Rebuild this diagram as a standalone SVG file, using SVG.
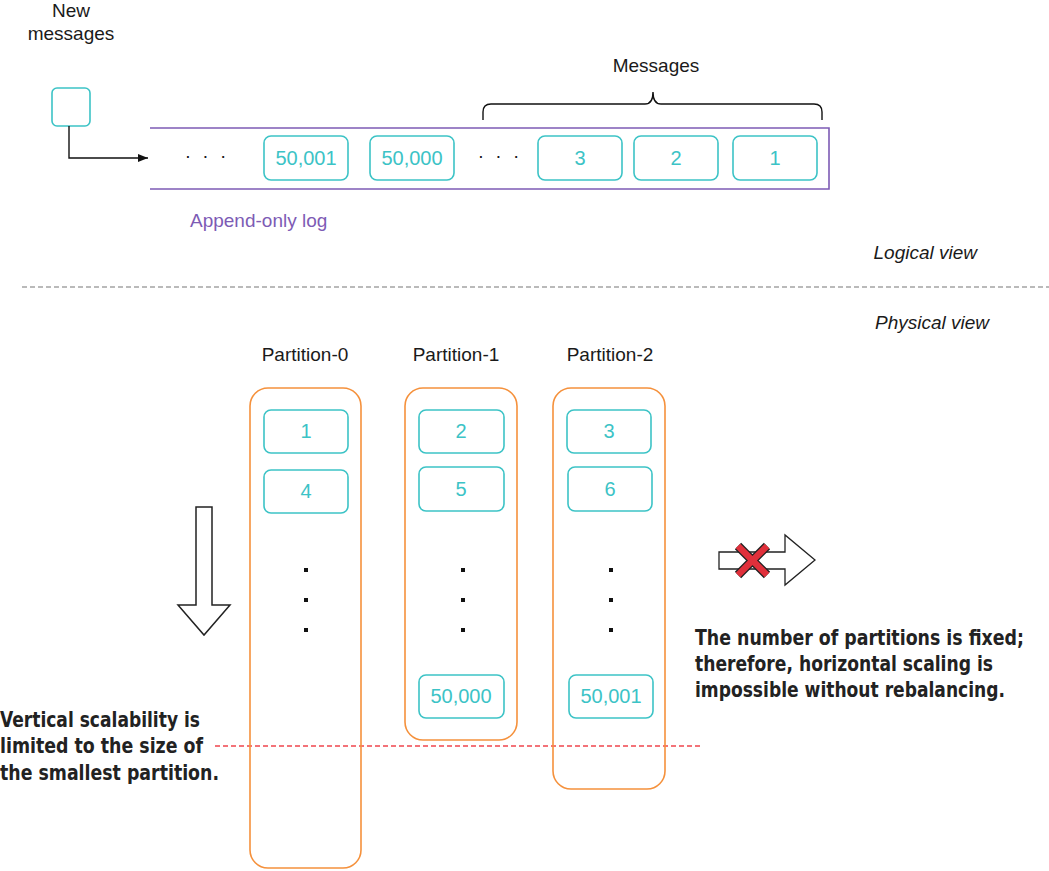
<svg xmlns="http://www.w3.org/2000/svg" width="1049" height="871" viewBox="0 0 1049 871">
<style>
.t{font-family:"Liberation Sans",Arial,sans-serif;font-size:19px;fill:#1a1a1a}
.c{font-family:"Liberation Sans",Arial,sans-serif;font-size:20px;fill:#3cc3c6;text-anchor:middle}
.m{fill:#fff;stroke:#3cc3c6;stroke-width:1.6}
.p{fill:none;stroke:#f5913c;stroke-width:1.6}
.i{font-family:"Liberation Sans",Arial,sans-serif;font-size:19px;font-style:italic;fill:#1a1a1a;text-anchor:end}
.b{font-family:"DejaVu Sans Condensed","Liberation Sans Narrow","Liberation Sans",sans-serif;font-size:22px;font-weight:bold;fill:#222}
.dot{fill:#111}
</style>
<defs>
<marker id="ah" markerWidth="10" markerHeight="8" refX="10" refY="4" orient="auto" markerUnits="userSpaceOnUse" viewBox="0 0 10 8"><path d="M0,0 L10,4 L0,8 Z" fill="#111"/></marker>
</defs>
<rect width="1049" height="871" fill="#fff"/>

<g id="new-messages">
<text class="t" x="71" y="17" text-anchor="middle">New</text>
<text class="t" x="71" y="40" text-anchor="middle">messages</text>
<rect class="m" x="52" y="88" width="38" height="38" rx="5"/>
</g>

<g id="log">
<path d="M150,128 H829 V189 H150" fill="none" stroke="#7d5bb5" stroke-width="1.6"/>
<text class="t" x="207" y="162" text-anchor="middle" letter-spacing="3">· · ·</text>
<text class="t" x="500" y="162" text-anchor="middle" letter-spacing="3">· · ·</text>
<text x="190" y="227" font-family="Liberation Sans,Arial,sans-serif" font-size="19" fill="#7d5bb5">Append-only log</text>
</g>
<g id="m50001"><rect class="m" x="264" y="136" width="84" height="44" rx="7"/><text class="c" x="306" y="165">50,001</text></g>
<g id="m50000"><rect class="m" x="370" y="136" width="84" height="44" rx="7"/><text class="c" x="412" y="165">50,000</text></g>
<g id="m3"><rect class="m" x="538" y="136" width="84" height="44" rx="7"/><text class="c" x="580" y="165">3</text></g>
<g id="m2"><rect class="m" x="634" y="136" width="84" height="44" rx="7"/><text class="c" x="676" y="165">2</text></g>
<g id="m1"><rect class="m" x="733" y="136" width="84" height="44" rx="7"/><text class="c" x="775" y="165">1</text></g>

<g id="messages-brace">
<path d="M483,120 V112 Q483,104 491,104 H645 Q653,104 653,92 Q653,104 661,104 H814 Q822,104 822,112 V120" fill="none" stroke="#111" stroke-width="1.4"/>
<text class="t" x="656" y="72" text-anchor="middle">Messages</text>
</g>

<g id="connectors">
<path d="M69,126 V158 H148" fill="none" stroke="#111" stroke-width="1.4" marker-end="url(#ah)"/>
<line x1="22" y1="287" x2="1049" y2="287" stroke="#777" stroke-width="1.2" stroke-dasharray="5,3"/>
<line x1="215" y1="746" x2="700" y2="746" stroke="#f0464e" stroke-width="1.3" stroke-dasharray="5,3"/>
</g>

<text class="i" x="977" y="259">Logical view</text>
<text class="i" x="989" y="329">Physical view</text>

<g id="partition-0">
<text class="t" x="305" y="361" text-anchor="middle">Partition-0</text>
<rect class="p" x="250" y="388" width="111" height="480" rx="18"/>
<rect class="m" x="264" y="410" width="84" height="43" rx="7"/><text class="c" x="306" y="438">1</text>
<rect class="m" x="264" y="470" width="84" height="43" rx="7"/><text class="c" x="306" y="498">4</text>
<rect class="dot" x="304" y="568" width="4" height="4"/><rect class="dot" x="304" y="598" width="4" height="4"/><rect class="dot" x="304" y="628" width="4" height="4"/>
</g>

<g id="partition-1">
<text class="t" x="456" y="361" text-anchor="middle">Partition-1</text>
<rect class="p" x="405" y="388" width="112" height="352" rx="18"/>
<rect class="m" x="419" y="410" width="85" height="43" rx="7"/><text class="c" x="461" y="438">2</text>
<rect class="m" x="419" y="467" width="85" height="44" rx="7"/><text class="c" x="461" y="496">5</text>
<rect class="dot" x="461" y="568" width="4" height="4"/><rect class="dot" x="461" y="598" width="4" height="4"/><rect class="dot" x="461" y="628" width="4" height="4"/>
<rect class="m" x="419" y="675" width="85" height="43" rx="7"/><text class="c" x="461" y="703">50,000</text>
</g>

<g id="partition-2">
<text class="t" x="610" y="361" text-anchor="middle">Partition-2</text>
<rect class="p" x="553" y="388" width="112" height="401" rx="18"/>
<rect class="m" x="567" y="410" width="84" height="43" rx="7"/><text class="c" x="609" y="438">3</text>
<rect class="m" x="568" y="467" width="84" height="44" rx="7"/><text class="c" x="610" y="496">6</text>
<rect class="dot" x="609" y="568" width="4" height="4"/><rect class="dot" x="609" y="598" width="4" height="4"/><rect class="dot" x="609" y="628" width="4" height="4"/>
<rect class="m" x="569" y="675" width="84" height="43" rx="7"/><text class="c" x="611" y="703">50,001</text>
</g>

<g id="down-arrow">
<path d="M196,507 H212 V605 H230 L204,635 L178,605 H196 Z" fill="#fff" stroke="#222" stroke-width="1.5"/>
</g>

<g id="right-arrow">
<path d="M719,552 H785 V535 L815,560 L785,585 V569 H719 Z" fill="#fff" stroke="#222" stroke-width="1.3"/>
<path d="M738,546 L767,575 M767,546 L738,575" stroke="#222" stroke-width="9" stroke-linecap="butt"/>
<path d="M738,546 L767,575 M767,546 L738,575" stroke="#e0303b" stroke-width="6.5" stroke-linecap="butt"/>
</g>

<g id="vertical-note">
<text class="b" x="0" y="727" textLength="200" lengthAdjust="spacingAndGlyphs">Vertical scalability is</text>
<text class="b" x="0" y="753" textLength="203" lengthAdjust="spacingAndGlyphs">limited to the size of</text>
<text class="b" x="0" y="780" textLength="219" lengthAdjust="spacingAndGlyphs">the smallest partition.</text>
</g>

<g id="horizontal-note">
<text class="b" x="695" y="645" textLength="329" lengthAdjust="spacingAndGlyphs">The number of partitions is fixed;</text>
<text class="b" x="695" y="671" textLength="298" lengthAdjust="spacingAndGlyphs">therefore, horizontal scaling is</text>
<text class="b" x="695" y="697" textLength="310" lengthAdjust="spacingAndGlyphs">impossible without rebalancing.</text>
</g>
</svg>
